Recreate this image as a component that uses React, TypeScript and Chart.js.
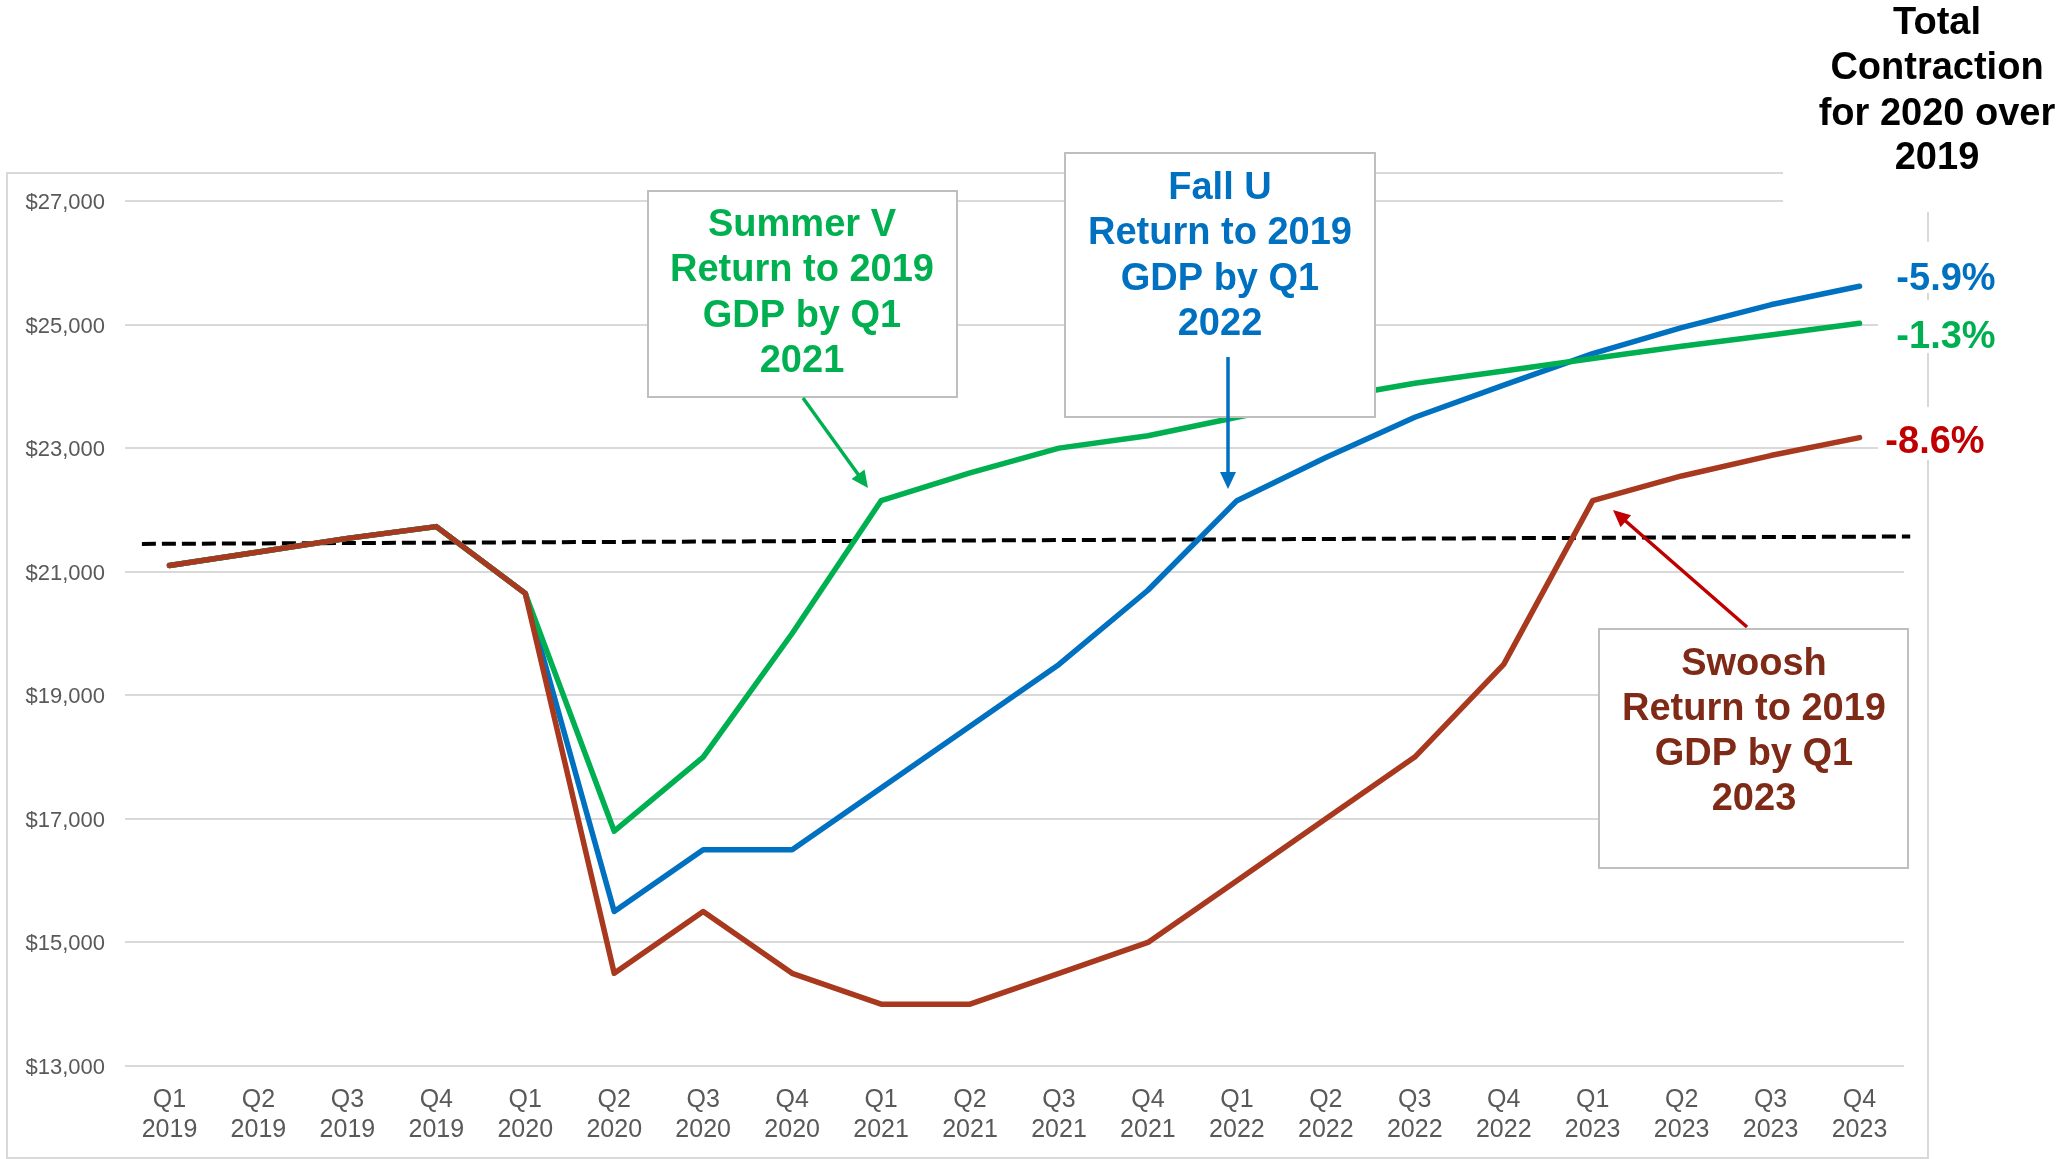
import React, { useEffect, useRef } from "react";
import { Chart, registerables } from "chart.js";

Chart.register(...registerables);

const quarterLabels: string[][] = [
  ["Q1", "2019"], ["Q2", "2019"], ["Q3", "2019"], ["Q4", "2019"],
  ["Q1", "2020"], ["Q2", "2020"], ["Q3", "2020"], ["Q4", "2020"],
  ["Q1", "2021"], ["Q2", "2021"], ["Q3", "2021"], ["Q4", "2021"],
  ["Q1", "2022"], ["Q2", "2022"], ["Q3", "2022"], ["Q4", "2022"],
  ["Q1", "2023"], ["Q2", "2023"], ["Q3", "2023"], ["Q4", "2023"],
];

// Shared history Q1 2019 - Q1 2020
const history = [21100, 21320, 21540, 21730, 20650];
// Scenarios Q2 2020 - Q4 2023
const summerV = [16800, 18000, 20000, 22150, 22600, 23000, 23200, 23500, 23800, 24050, 24250, 24450, 24650, 24830, 25020];
const fallU = [15500, 16500, 16500, 17500, 18500, 19500, 20700, 22150, 22850, 23500, 24020, 24530, 24950, 25320, 25620];
const swoosh = [14500, 15500, 14500, 14000, 14000, 14500, 15000, 16000, 17000, 18000, 19500, 22150, 22550, 22880, 23170];

const yTicks = [13000, 15000, 17000, 19000, 21000, 23000, 25000, 27000];

// 2019 reference level (dashed line), endpoints in category index / value
const baselineX = [-0.31, 19.57];
const baselineY = [21450, 21570];

const contractionLabels = ["-5.9%", "-1.3%", "-8.6%"];
const titleLines = ["Total", "Contraction", "for 2020 over", "2019"];
const summerText = ["Summer V", "Return to 2019", "GDP by Q1", "2021"];
const fallText = ["Fall U", "Return to 2019", "GDP by Q1", "2022"];
const swooshText = ["Swoosh", "Return to 2019", "GDP by Q1", "2023"];

const FONT = "'Liberation Sans', Arial, Helvetica, sans-serif";
const GREEN = "#00B050";
const BLUE = "#0070C0";
const BROWN = "#A8391F";
const DARK_RED = "#C00000";
const SWOOSH_TEXT = "#7F2A17";

function drawArrow(ctx: CanvasRenderingContext2D, x1: number, y1: number, x2: number, y2: number, color: string) {
  const ang = Math.atan2(y2 - y1, x2 - x1);
  const headLen = 17;
  const headW = 8;
  ctx.save();
  ctx.strokeStyle = color;
  ctx.fillStyle = color;
  ctx.lineWidth = 3.5;
  ctx.beginPath();
  ctx.moveTo(x1, y1);
  ctx.lineTo(x2 - Math.cos(ang) * headLen * 0.8, y2 - Math.sin(ang) * headLen * 0.8);
  ctx.stroke();
  ctx.beginPath();
  ctx.moveTo(x2, y2);
  ctx.lineTo(x2 - headLen * Math.cos(ang) + headW * Math.sin(ang), y2 - headLen * Math.sin(ang) - headW * Math.cos(ang));
  ctx.lineTo(x2 - headLen * Math.cos(ang) - headW * Math.sin(ang), y2 - headLen * Math.sin(ang) + headW * Math.cos(ang));
  ctx.closePath();
  ctx.fill();
  ctx.restore();
}

function drawBox(ctx: CanvasRenderingContext2D, x: number, y: number, w: number, h: number, lines: string[], color: string, cx: number, ys: number[]) {
  ctx.save();
  ctx.fillStyle = "#FFFFFF";
  ctx.fillRect(x, y, w, h);
  ctx.strokeStyle = "#BFBFBF";
  ctx.lineWidth = 2;
  ctx.strokeRect(x, y, w, h);
  ctx.fillStyle = color;
  ctx.font = `bold 38px ${FONT}`;
  ctx.textAlign = "center";
  ctx.textBaseline = "middle";
  lines.forEach((t, i) => ctx.fillText(t, cx, ys[i]));
  ctx.restore();
}

const decorPlugin = {
  id: "decor",
  beforeDraw(chart: any) {
    const ctx = chart.ctx as CanvasRenderingContext2D;
    ctx.save();
    ctx.fillStyle = "#FFFFFF";
    ctx.fillRect(0, 0, chart.width, chart.height);
    ctx.strokeStyle = "#D9D9D9";
    ctx.lineWidth = 2;
    ctx.strokeRect(7, 173, 1921, 985);
    ctx.restore();
  },
  beforeDatasetsDraw(chart: any) {
    const ctx = chart.ctx as CanvasRenderingContext2D;
    const xs = chart.scales.x;
    const ys = chart.scales.y;
    ctx.save();
    ctx.strokeStyle = "#000000";
    ctx.lineWidth = 4;
    ctx.setLineDash([14, 6]);
    ctx.beginPath();
    ctx.moveTo(xs.getPixelForValue(baselineX[0]), ys.getPixelForValue(baselineY[0]));
    ctx.lineTo(xs.getPixelForValue(baselineX[1]), ys.getPixelForValue(baselineY[1]));
    ctx.stroke();
    ctx.restore();
  },
  afterDatasetsDraw(chart: any) {
    const ctx = chart.ctx as CanvasRenderingContext2D;
    // annotation boxes
    drawBox(ctx, 648, 191, 309, 206, summerText, GREEN, 802, [226, 271, 317, 362]);
    drawBox(ctx, 1065, 153, 310, 264, fallText, BLUE, 1220, [189, 234, 280, 325]);
    drawBox(ctx, 1599, 629, 309, 239, swooshText, SWOOSH_TEXT, 1754, [665, 710, 755, 800]);
    // arrows
    drawArrow(ctx, 803, 398, 868, 488, GREEN);
    drawArrow(ctx, 1228, 357, 1228, 489, BLUE);
    drawArrow(ctx, 1747, 627, 1613, 510, DARK_RED);

    ctx.save();
    // title area
    ctx.fillStyle = "#FFFFFF";
    ctx.fillRect(1783, 0, 279, 212);
    ctx.fillStyle = "#000000";
    ctx.font = `bold 38px ${FONT}`;
    ctx.textAlign = "center";
    ctx.textBaseline = "middle";
    const tys = [24, 69, 115, 159];
    titleLines.forEach((t, i) => ctx.fillText(t, 1937, tys[i]));

    // contraction labels
    const lx = [1946, 1946, 1935];
    const ly = [280, 338, 443];
    const lc = [BLUE, GREEN, DARK_RED];
    const bg = [[242, 51], [300, 53], [407, 53]];
    contractionLabels.forEach((t, i) => {
      ctx.fillStyle = "#FFFFFF";
      ctx.fillRect(1878, bg[i][0], 135, bg[i][1]);
      ctx.fillStyle = lc[i];
      ctx.fillText(t, lx[i], ly[i]);
    });
    ctx.restore();
  },
};

export default function App() {
  const ref = useRef<HTMLCanvasElement | null>(null);
  useEffect(() => {
    if (!ref.current) return;
    const chart = new Chart(ref.current, {
      type: "line",
      data: {
        labels: quarterLabels as any,
        datasets: [
          {
            label: "Swoosh",
            data: [...history, ...swoosh],
            borderColor: BROWN,
            borderWidth: 5.5,
            pointRadius: 0,
            tension: 0,
            borderJoinStyle: "round",
            borderCapStyle: "round",
          },
          {
            label: "Summer V",
            data: [...history, ...summerV],
            borderColor: GREEN,
            borderWidth: 5.5,
            pointRadius: 0,
            tension: 0,
            borderJoinStyle: "round",
            borderCapStyle: "round",
          },
          {
            label: "Fall U",
            data: [...history, ...fallU],
            borderColor: BLUE,
            borderWidth: 5.5,
            pointRadius: 0,
            tension: 0,
            borderJoinStyle: "round",
            borderCapStyle: "round",
          },
        ],
      },
      options: {
        responsive: false,
        animation: false,
        devicePixelRatio: 1,
        layout: { padding: { left: 7, right: 158, top: 201, bottom: 0 } },
        plugins: { legend: { display: false }, tooltip: { enabled: false } },
        scales: {
          x: {
            type: "category",
            offset: true,
            grid: { display: false, drawTicks: false },
            border: { display: false },
            ticks: {
              color: "#595959",
              font: { family: FONT, size: 25, lineHeight: 1.2 },
              padding: 19,
              maxRotation: 0,
              minRotation: 0,
              autoSkip: false,
            },
            afterFit: (s: any) => {
              s.height = 93;
            },
          },
          y: {
            min: 13000,
            max: 27000,
            afterBuildTicks: (s: any) => {
              s.ticks = yTicks.map((v) => ({ value: v }));
            },
            ticks: {
              color: "#595959",
              font: { family: FONT, size: 22 },
              padding: 20,
              labelOffset: 2,
              callback: (v: any) => "$" + Number(v).toLocaleString("en-US"),
            },
            grid: { color: "#D9D9D9", lineWidth: 2, drawTicks: false },
            border: { display: false },
            afterFit: (s: any) => {
              s.width = 118;
            },
          },
        },
      },
      plugins: [decorPlugin],
    });
    return () => chart.destroy();
  }, []);
  return (
    <div style={{ position: "fixed", left: 0, top: 0, width: 2062, height: 1159, background: "#fff" }}>
      <canvas ref={ref} width={2062} height={1159} style={{ width: 2062, height: 1159, display: "block" }} />
    </div>
  );
}
